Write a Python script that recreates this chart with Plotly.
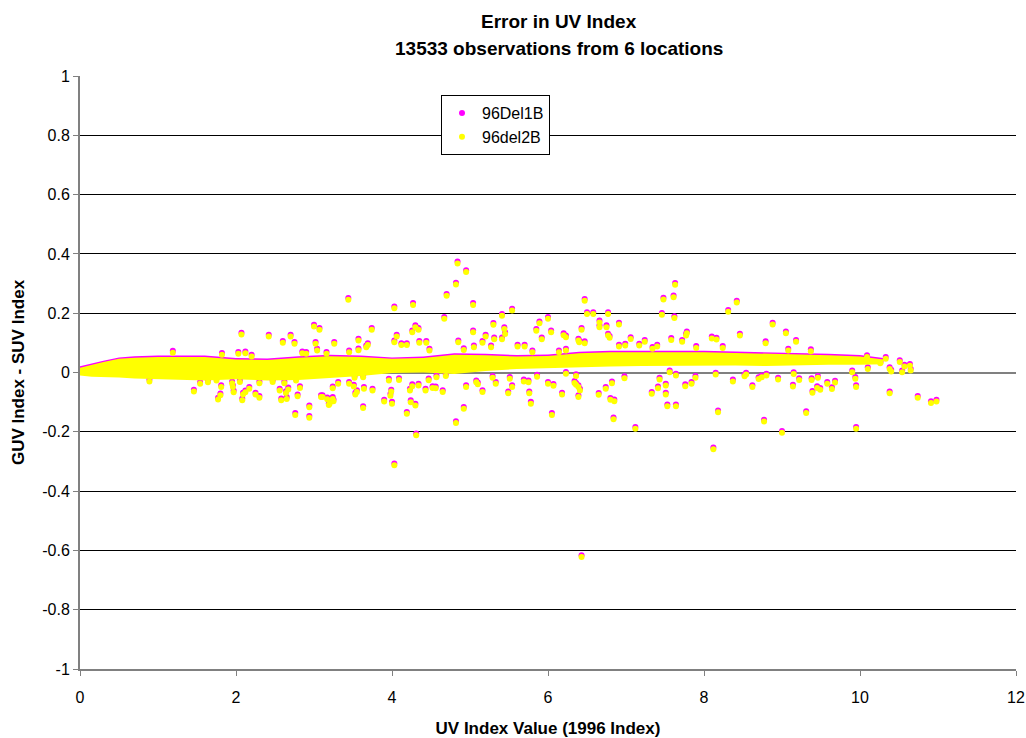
import plotly.graph_objects as go

# ---------------- data ----------------
title_lines = ["Error in UV Index", "13533 observations from 6 locations"]
x_title = "UV Index Value (1996 Index)"
y_title = "GUV Index - SUV Index"
series_names = ["96Del1B", "96del2B"]
y_tick_vals = [-1, -0.8, -0.6, -0.4, -0.2, 0, 0.2, 0.4, 0.6, 0.8, 1]
y_tick_text = ["-1", "-0.8", "-0.6", "-0.4", "-0.2", "0", "0.2", "0.4", "0.6", "0.8", "1"]
x_tick_vals = [0, 2, 4, 6, 8, 10, 12]

# dense core of the cloud (too many overlapping points to read one by one): edges
band_x = [0, 0.15, 0.3, 0.5, 0.7, 1.0, 1.3, 1.6, 2.0, 2.4, 2.8, 3.2, 3.6, 4.0, 4.4,
          4.8, 5.2, 5.6, 6.0, 6.4, 6.8, 7.2, 7.6, 8.0, 8.4, 8.8, 9.2, 9.6, 10.0, 10.3]
del1b_band_hi = [0.021, 0.031, 0.040, 0.051, 0.055, 0.057, 0.058, 0.057, 0.049, 0.047,
                 0.055, 0.060, 0.057, 0.051, 0.054, 0.065, 0.063, 0.059, 0.061, 0.070,
                 0.073, 0.073, 0.074, 0.073, 0.071, 0.069, 0.065, 0.063, 0.059, 0.049]
del1b_band_lo = [-0.005, -0.009, -0.011, -0.012, -0.015, -0.016, -0.020, -0.022, -0.018, -0.022,
                 -0.020, -0.013, -0.007, 0.003, 0.005, 0.000, 0.010, 0.017, 0.020, 0.023,
                 0.025, 0.027, 0.027, 0.029, 0.029, 0.027, 0.029, 0.031, 0.031, 0.033]
del2b_band_hi = [0.016, 0.026, 0.035, 0.046, 0.050, 0.052, 0.053, 0.052, 0.044, 0.042,
                 0.050, 0.055, 0.052, 0.046, 0.049, 0.060, 0.058, 0.054, 0.056, 0.065,
                 0.068, 0.068, 0.069, 0.068, 0.066, 0.064, 0.060, 0.058, 0.054, 0.044]
del2b_band_lo = [-0.010, -0.014, -0.016, -0.017, -0.020, -0.021, -0.025, -0.027, -0.023, -0.027,
                 -0.025, -0.018, -0.012, -0.002, 0.000, -0.005, 0.005, 0.012, 0.015, 0.018,
                 0.020, 0.022, 0.022, 0.024, 0.024, 0.022, 0.024, 0.026, 0.026, 0.028]

# individually visible observations
uv_index = [
    0.89, 1.19, 1.46, 1.54, 1.64, 1.75, 1.77, 1.80, 1.81, 1.82,
    1.95, 1.96, 1.97, 2.03, 2.05, 2.07, 2.08, 2.09, 2.12, 2.12,
    2.17, 2.20, 2.25, 2.30, 2.30, 2.42, 2.47, 2.56, 2.58, 2.60,
    2.62, 2.64, 2.65, 2.67, 2.70, 2.75, 2.76, 2.77, 2.79, 2.82,
    2.85, 2.90, 2.94, 2.94, 3.00, 3.02, 3.04, 3.07, 3.09, 3.11,
    3.16, 3.17, 3.19, 3.20, 3.24, 3.24, 3.25, 3.26, 3.31, 3.44,
    3.45, 3.45, 3.51, 3.52, 3.53, 3.55, 3.57, 3.57, 3.63, 3.63,
    3.64, 3.67, 3.69, 3.74, 3.75, 3.90, 3.96, 3.98, 3.99, 4.00,
    4.03, 4.03, 4.03, 4.06, 4.09, 4.12, 4.19, 4.19, 4.23, 4.24,
    4.26, 4.26, 4.27, 4.30, 4.30, 4.31, 4.34, 4.34, 4.35, 4.43,
    4.44, 4.47, 4.48, 4.52, 4.56, 4.57, 4.65, 4.67, 4.69, 4.70,
    4.82, 4.82, 4.84, 4.85, 4.92, 4.92, 4.95, 4.95, 5.04, 5.04,
    5.05, 5.08, 5.10, 5.16, 5.16, 5.20, 5.27, 5.29, 5.30, 5.31,
    5.33, 5.41, 5.41, 5.44, 5.45, 5.49, 5.51, 5.54, 5.54, 5.61,
    5.69, 5.70, 5.75, 5.76, 5.78, 5.80, 5.85, 5.86, 5.89, 5.92,
    6.00, 6.00, 6.04, 6.05, 6.07, 6.14, 6.18, 6.20, 6.23, 6.23,
    6.23, 6.34, 6.36, 6.36, 6.39, 6.39, 6.39, 6.40, 6.41, 6.43,
    6.43, 6.47, 6.47, 6.50, 6.58, 6.65, 6.66, 6.66, 6.74, 6.75,
    6.77, 6.77, 6.79, 6.80, 6.82, 6.84, 6.85, 6.91, 6.91, 6.98,
    6.99, 7.06, 7.12, 7.17, 7.24, 7.33, 7.34, 7.40, 7.41, 7.43,
    7.46, 7.48, 7.51, 7.51, 7.53, 7.56, 7.58, 7.61, 7.62, 7.63,
    7.64, 7.64, 7.72, 7.76, 7.77, 7.78, 7.84, 7.89, 7.90, 8.10,
    8.12, 8.15, 8.16, 8.18, 8.24, 8.31, 8.37, 8.42, 8.46, 8.52,
    8.54, 8.62, 8.70, 8.74, 8.77, 8.79, 8.80, 8.88, 8.95, 9.00,
    9.05, 9.08, 9.14, 9.15, 9.18, 9.22, 9.31, 9.37, 9.38, 9.39,
    9.45, 9.46, 9.49, 9.58, 9.64, 9.68, 9.90, 9.94, 9.95, 9.95,
    10.09, 10.10, 10.26, 10.33, 10.38, 10.38, 10.40, 10.51, 10.54, 10.57,
    10.64, 10.65, 10.74, 10.91, 10.98,
]
del1b_err = [
    -0.024, 0.073, -0.058, -0.032, -0.027, -0.021, -0.085, -0.071, -0.043, 0.066,
    -0.030, -0.043, -0.061, 0.069, -0.026, 0.134, -0.088, -0.068, 0.071, -0.061,
    -0.049, 0.060, -0.068, -0.079, -0.030, 0.127, -0.026, -0.055, -0.088, 0.106,
    -0.030, -0.063, -0.083, -0.051, 0.127, 0.103, -0.137, -0.021, -0.074, -0.046,
    0.071, 0.069, -0.111, -0.147, 0.161, 0.103, 0.080, 0.150, -0.077, -0.077,
    0.069, -0.084, -0.104, -0.099, -0.083, -0.047, -0.091, 0.103, -0.032, 0.251,
    0.074, -0.032, -0.041, -0.012, -0.068, -0.060, 0.114, 0.081, -0.114, -0.010,
    -0.049, 0.091, 0.099, 0.150, -0.055, -0.092, -0.021, -0.072, -0.058, -0.099,
    0.223, 0.108, -0.307, 0.127, -0.019, 0.099, 0.099, -0.133, -0.055, -0.094,
    0.142, -0.040, 0.234, 0.159, -0.105, -0.206, 0.150, -0.038, 0.106, -0.055,
    0.106, -0.020, 0.080, -0.046, -0.047, -0.010, -0.060, 0.187, -0.006, 0.265,
    0.303, -0.164, 0.374, 0.108, 0.082, -0.116, 0.345, -0.043, 0.234, 0.142,
    0.091, -0.027, -0.034, 0.106, -0.060, 0.127, 0.091, -0.012, 0.167, 0.118,
    -0.032, 0.197, 0.118, 0.153, 0.136, -0.064, -0.015, 0.215, -0.043, 0.094,
    -0.024, 0.094, -0.027, -0.064, -0.099, 0.074, 0.147, -0.008, 0.172, 0.118,
    0.187, -0.032, 0.142, -0.137, -0.039, 0.074, -0.068, 0.132, 0.125, 0.080,
    0.002, -0.029, -0.035, -0.006, 0.114, -0.043, -0.077, 0.108, -0.055, 0.150,
    -0.616, 0.248, 0.105, 0.203, 0.203, -0.069, 0.175, 0.159, -0.049, 0.159,
    0.203, 0.131, 0.123, -0.086, -0.030, -0.152, -0.091, 0.168, 0.094, -0.013,
    0.097, 0.119, -0.184, 0.097, 0.110, -0.066, 0.086, 0.094, -0.047, -0.018,
    0.201, 0.252, -0.038, -0.068, -0.108, 0.007, 0.116, 0.260, 0.190, 0.302,
    -0.004, -0.108, 0.110, -0.040, 0.131, 0.138, -0.032, -0.012, 0.089, 0.121,
    -0.253, -0.001, 0.117, -0.128, 0.089, 0.211, -0.024, 0.242, 0.131, -0.007,
    -0.001, -0.043, -0.016, -0.010, -0.159, 0.105, -0.004, 0.168, -0.018, -0.197,
    0.138, 0.080, -0.041, 0.001, 0.110, -0.019, -0.131, 0.078, -0.019, -0.062,
    -0.046, -0.012, -0.052, -0.032, -0.050, -0.028, 0.007, -0.015, -0.043, -0.184,
    0.058, 0.018, 0.037, 0.052, 0.018, -0.064, 0.009, 0.041, 0.007, 0.026,
    0.029, 0.013, -0.079, -0.097, -0.092,
]
del2b_err = [
    -0.030, 0.067, -0.064, -0.038, -0.033, -0.027, -0.091, -0.077, -0.049, 0.060,
    -0.036, -0.049, -0.067, 0.063, -0.032, 0.128, -0.094, -0.074, 0.065, -0.067,
    -0.055, 0.054, -0.074, -0.085, -0.036, 0.121, -0.032, -0.061, -0.094, 0.100,
    -0.036, -0.069, -0.089, -0.057, 0.121, 0.097, -0.143, -0.027, -0.080, -0.052,
    0.065, 0.063, -0.117, -0.153, 0.155, 0.097, 0.074, 0.144, -0.083, -0.083,
    0.063, -0.090, -0.110, -0.105, -0.089, -0.053, -0.097, 0.097, -0.038, 0.245,
    0.068, -0.038, -0.047, -0.018, -0.074, -0.066, 0.108, 0.075, -0.120, -0.016,
    -0.055, 0.085, 0.093, 0.144, -0.061, -0.098, -0.027, -0.078, -0.064, -0.105,
    0.217, 0.102, -0.313, 0.121, -0.025, 0.093, 0.093, -0.139, -0.061, -0.100,
    0.136, -0.046, 0.228, 0.153, -0.111, -0.212, 0.144, -0.044, 0.100, -0.061,
    0.100, -0.026, 0.074, -0.052, -0.053, -0.016, -0.066, 0.181, -0.012, 0.259,
    0.297, -0.170, 0.368, 0.102, 0.076, -0.122, 0.339, -0.049, 0.228, 0.136,
    0.085, -0.033, -0.040, 0.100, -0.066, 0.121, 0.085, -0.018, 0.161, 0.112,
    -0.038, 0.191, 0.112, 0.147, 0.130, -0.070, -0.021, 0.209, -0.049, 0.088,
    -0.030, 0.088, -0.033, -0.070, -0.105, 0.068, 0.141, -0.014, 0.166, 0.112,
    0.181, -0.038, 0.136, -0.143, -0.045, 0.068, -0.074, 0.126, 0.119, 0.074,
    -0.004, -0.035, -0.041, -0.012, 0.108, -0.049, -0.083, 0.102, -0.061, 0.144,
    -0.622, 0.242, 0.099, 0.197, 0.197, -0.075, 0.169, 0.153, -0.055, 0.153,
    0.197, 0.125, 0.117, -0.092, -0.036, -0.158, -0.097, 0.162, 0.088, -0.019,
    0.091, 0.113, -0.190, 0.091, 0.104, -0.072, 0.080, 0.088, -0.053, -0.024,
    0.195, 0.246, -0.044, -0.074, -0.114, 0.001, 0.110, 0.254, 0.184, 0.296,
    -0.010, -0.114, 0.104, -0.046, 0.125, 0.132, -0.038, -0.018, 0.083, 0.115,
    -0.259, -0.007, 0.111, -0.134, 0.083, 0.205, -0.030, 0.236, 0.125, -0.013,
    -0.007, -0.049, -0.022, -0.016, -0.165, 0.099, -0.010, 0.162, -0.024, -0.203,
    0.132, 0.074, -0.047, -0.005, 0.104, -0.025, -0.137, 0.072, -0.025, -0.068,
    -0.052, -0.018, -0.058, -0.038, -0.056, -0.034, 0.001, -0.021, -0.049, -0.190,
    0.052, 0.012, 0.031, 0.046, 0.012, -0.070, 0.003, 0.035, 0.001, 0.020,
    0.023, 0.007, -0.085, -0.103, -0.098,
]
assert len(uv_index) == len(del1b_err) == len(del2b_err)

# ---------------- styling ----------------
FONT = "Liberation Sans, Arial, sans-serif"
MAGENTA = "#FF00FF"
YELLOW = "#FFFF00"
AXIS_GRAY = "#808080"
L, R, T, B = 80, 10, 76, 69
PW, PH = 1026 - L - R, 738 - T - B

fig = go.Figure()

# series 1 (drawn first)
fig.add_trace(go.Scatter(
    x=band_x + band_x[::-1], y=del1b_band_hi + del1b_band_lo[::-1],
    fill="toself", fillcolor=MAGENTA, mode="lines", line=dict(width=0, color=MAGENTA),
    showlegend=False, hoverinfo="skip"))
fig.add_trace(go.Scatter(
    x=uv_index, y=del1b_err, mode="markers", name=series_names[0],
    marker=dict(color=MAGENTA, size=6, line=dict(width=0))))

# series 2 (drawn on top)
fig.add_trace(go.Scatter(
    x=band_x + band_x[::-1], y=del2b_band_hi + del2b_band_lo[::-1],
    fill="toself", fillcolor=YELLOW, mode="lines", line=dict(width=0, color=YELLOW),
    showlegend=False, hoverinfo="skip"))
fig.add_trace(go.Scatter(
    x=uv_index, y=del2b_err, mode="markers", name=series_names[1],
    marker=dict(color=YELLOW, size=6, line=dict(width=0))))

# two-line bold title, placed as in the reference
title_px = [21, 49]
for line, py in zip(title_lines, title_px):
    fig.add_annotation(
        text="<b>" + line + "</b>", xref="paper", yref="paper",
        x=(559 - L) / PW, y=(738 - B - py) / PH, xanchor="center", yanchor="middle",
        showarrow=False, font=dict(family=FONT, size=19, color="black"))

fig.update_layout(
    width=1026, height=738,
    margin=dict(l=L, r=R, t=T, b=B, autoexpand=False),
    paper_bgcolor="white", plot_bgcolor="white",
    font=dict(family=FONT, size=16, color="black"),
    showlegend=True,
    legend=dict(
        x=(441 - L) / PW, y=(738 - B - 95) / PH, xanchor="left", yanchor="top",
        bgcolor="white", bordercolor="black", borderwidth=1,
        font=dict(family=FONT, size=16), itemwidth=30, tracegroupgap=0),
    xaxis=dict(
        range=[0, 12], tickvals=x_tick_vals, showgrid=False, zeroline=False,
        showline=True, linecolor=AXIS_GRAY, linewidth=2, automargin=False,
        ticks="outside", ticklen=5, tickcolor=AXIS_GRAY, tickwidth=1,
        ticklabelstandoff=8,
        tickfont=dict(family=FONT, size=16),
        title=dict(text="<b>" + x_title + "</b>", font=dict(family=FONT, size=17), standoff=17)),
    yaxis=dict(
        range=[-1, 1], tickvals=y_tick_vals, ticktext=y_tick_text,
        showgrid=True, gridcolor="black", gridwidth=1, automargin=False,
        zeroline=True, zerolinecolor=AXIS_GRAY, zerolinewidth=2,
        showline=True, linecolor=AXIS_GRAY, linewidth=2,
        ticks="outside", ticklen=5, tickcolor=AXIS_GRAY, tickwidth=1,
        tickfont=dict(family=FONT, size=16),
        title=dict(text="<b>" + y_title + "</b>", font=dict(family=FONT, size=17), standoff=13)),
)

fig.write_html("out.html", config={"displayModeBar": False},
               post_script="document.body.style.margin='0';")
